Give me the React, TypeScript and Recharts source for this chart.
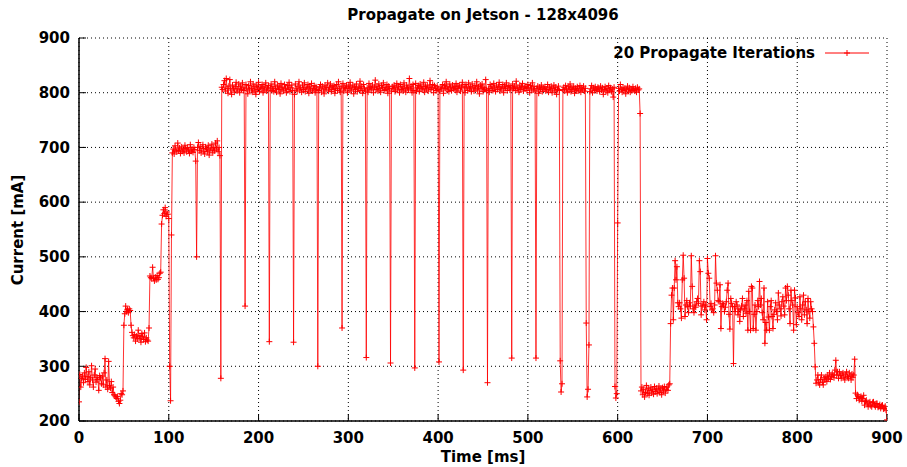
import React from 'react';
import { LineChart, Line, XAxis, YAxis, CartesianGrid } from 'recharts';

if (typeof document !== 'undefined') {
  document.body.style.margin = '0';
}

// ---- data (current in mA, sampled every 1 ms) ----
const xTicks = [0, 100, 200, 300, 400, 500, 600, 700, 800, 900];
const yTicks = [200, 300, 400, 500, 600, 700, 800, 900];

const idleStart = [
  235, 285, 262, 278, 282, 270, 288, 276, 298, 281,
  272, 290, 266, 279, 301, 275, 262, 284, 295, 271,
  280, 276, 256, 283, 279, 268, 282, 266, 288, 314,
  262, 275, 258, 309, 265, 260, 272, 252, 262, 248,
  246, 244, 241, 245, 236, 232, 238, 250, 248, 255,
];
const ramp400 = [
  375, 396, 410, 400, 404, 398, 405, 402, 375, 362,
  356, 352, 358, 346, 355, 350, 366, 351, 356, 344,
  360, 354, 349, 361, 345, 352, 348, 346, 370,
];
const ramp465 = [465, 462, 460, 481, 461, 456, 463, 458, 466, 459, 462, 470, 472];
const ramp580 = [560, 576, 586, 579, 590, 574, 582, 578, 570];
const dip100 = [300, 237, 540];
const plateau700 = [
  690, 697, 688, 703, 695, 692, 708, 694, 699,
  689, 701, 693, 697, 690, 704, 698, 692, 700, 695,
  689, 705, 693, 697, 691, 700, 696, 675, 500, 700,
  709, 694, 702, 690, 698, 705, 693, 688, 701, 697,
  692, 704, 686, 699, 695, 706, 690, 700, 694, 708,
  697, 712, 692, 700, 685,
];
const drop158 = [278];
const plateau800 = [
  810, 806, 815, 822, 803, 826, 808, 799, 812, 824, 805, 797, 814, 808, 801, 811, 819, 803, 807, 816,
  800, 812, 806, 818, 804, 809, 802, 815, 807, 798, 813, 805, 820, 808, 801, 816, 803, 811, 797, 814,
  806, 819, 802, 810, 808, 815, 800, 812, 805, 818, 803, 809, 813, 799, 807, 816, 804, 811, 802, 820,
  808, 801, 814, 806, 812, 798, 817, 805, 810, 803, 815, 808, 800, 813, 806, 819, 802, 809, 814, 804,
  811, 797, 816, 807, 803, 812, 820, 805, 809, 801, 814, 806, 818, 802, 810, 807, 815, 799, 812, 805,
  817, 803, 808, 813, 800, 811, 806, 822, 804, 809, 815, 801, 812, 807, 798, 814, 805, 810, 818, 803,
  809, 816, 802, 811, 806, 813, 799, 808, 815, 804, 820, 807, 801, 812, 805, 817, 803, 810, 808, 814,
  800, 812, 807, 819, 803, 809, 814, 798, 811, 806, 816, 802, 810, 808, 821, 804, 812, 799, 815, 807,
  803, 813, 809, 801, 817, 805, 811, 807, 814, 800, 810, 823, 806, 812, 803, 816, 808, 801, 813, 809,
  818, 804, 810, 806, 815, 799, 812, 808, 820, 803, 811, 807, 814, 802, 809, 817, 805, 812, 800, 815,
  806, 811, 803, 818, 808, 801, 814, 809, 805, 826, 807, 812, 800, 815, 804, 810, 817, 803, 809, 813,
  802, 816, 808, 811, 805, 819, 801, 812, 807, 814, 803, 810, 822, 806, 809, 815, 800, 813, 808, 804,
  812, 806, 818, 803, 810, 807, 815, 799, 813, 808, 820, 805, 811, 802, 816, 809, 804, 814, 807, 811,
  805, 817, 801, 812, 808, 814, 803, 810, 819, 806, 812, 800, 815, 809, 804, 818, 807, 811, 802, 816,
  809, 803, 813, 807, 820, 805, 811, 798, 814, 808, 816, 802, 810, 806, 824, 804, 812, 808, 801, 815,
  807, 812, 804, 817, 809, 802, 814, 806, 811, 819, 803, 810, 807, 815, 800, 812, 808, 818, 804, 811,
  813, 805, 810, 802, 816, 808, 812, 804, 821, 807, 809, 801, 814, 806, 811, 817, 803, 810, 808, 812,
  804, 815, 809, 800, 813, 807, 818, 805, 811, 803, 816, 808, 812, 799, 810, 806, 814, 802, 809, 807,
  811, 803, 806, 815, 801, 809, 805, 812, 800, 808, 814, 803, 810, 797, 806, 812, 804, 809, 801, 815,
  806, 810, 803, 813, 807, 800, 811, 805, 816, 802, 809, 806, 812, 799, 808, 804, 811, 803, 807, 813,
  801, 809, 805, 812, 803, 808, 798, 815, 806, 810, 802, 807, 813, 800, 809, 804, 811, 806, 803, 810,
  808, 802, 812, 805, 809, 797, 806, 811, 803, 808, 800, 813, 805, 809, 802, 807, 792, 810, 804, 812,
  805, 799, 808, 803, 815, 806, 801, 810, 804, 808, 798, 806, 812, 803, 809, 801, 807, 804, 811, 806,
  803, 808, 801, 810, 805, 807,
];
const spikeTimes = [185, 212, 239, 266, 293, 320, 347, 374, 401, 428, 455, 482, 509, 536, 537, 538, 565, 566, 567, 568, 597, 598, 599, 600];
const spikeValues = [410, 345, 344, 300, 370, 316, 306, 297, 308, 293, 270, 315, 315, 310, 253, 268, 379, 244, 258, 339, 263, 242, 250, 562];
const rampDown625 = [762];
const idleMid = [
  255, 262, 248, 258, 244, 252, 265, 250, 260, 247,
  256, 262, 251, 258, 249, 263, 254, 260, 250, 257,
  264, 252, 259, 248, 261, 255, 263, 251, 258, 262,
  256, 266, 268,
];
const busy = [
  378, 430, 443, 385, 443, 493, 458, 482, 416, 409,
  416, 405, 388, 458, 503, 461, 391, 412, 420, 409,
  398, 416, 410, 502, 446, 405, 398, 412, 408, 418,
  424, 415, 493, 473, 394, 410, 412, 418, 403, 412,
  385, 497, 470, 461, 409, 415, 403, 405, 398, 412,
  502, 452, 439, 420, 418, 449, 369, 409, 415, 412,
  400, 408, 418, 439, 452, 395, 368, 424, 415, 409,
  305, 409, 400, 418, 412, 394, 405, 382, 403, 410,
  424, 391, 405, 412, 397, 420, 366, 437, 400, 366,
  446, 443, 369, 395, 412, 366, 400, 420, 409, 455,
  412, 424, 398, 385, 443, 342, 380, 366, 418, 390,
  366, 409, 420, 391, 369, 395, 403, 416, 400, 385,
  434, 412, 405, 392, 418, 427, 410, 394, 443, 420,
  446, 430, 405, 378, 439, 420, 412, 366, 439, 425,
  376, 409, 398, 391, 427, 405, 385, 412, 430, 394,
  418, 403, 378, 424, 400, 388, 418, 405, 400, 372,
  342, 299,
];
const tail280 = [
  269, 275, 284, 270, 266, 276, 284, 271, 266, 279,
  275, 281, 272, 284, 278, 288, 276, 281, 286, 284,
  279, 293, 311, 284, 290, 278, 290, 283, 278, 286,
  288, 280, 275, 284, 290, 281, 278, 288, 282, 275,
  286, 280, 284, 313,
];
const tail230 = [
  251, 241, 248, 245, 238, 243, 245, 236, 241, 247,
  229, 236, 238, 231, 226, 233, 235, 228, 226, 234,
  235, 229, 226, 232, 232, 225, 226, 230, 223, 228,
  229, 222, 223, 227, 220, 202,
];

const segments: { start: number; values: number[] }[] = [
  { start: 0, values: idleStart },
  { start: 50, values: ramp400 },
  { start: 79, values: ramp465 },
  { start: 92, values: ramp580 },
  { start: 101, values: dip100 },
  { start: 104, values: plateau700 },
  { start: 158, values: drop158 },
  { start: 159, values: plateau800 },
  { start: 625, values: rampDown625 },
  { start: 626, values: idleMid },
  { start: 659, values: busy },
  { start: 821, values: tail280 },
  { start: 865, values: tail230 },
];

function buildRows() {
  const m = new Map<number, number>();
  segments.forEach((s) => s.values.forEach((v, i) => m.set(s.start + i, v)));
  spikeTimes.forEach((t, i) => m.set(t, spikeValues[i]));
  return Array.from(m.entries())
    .sort((a, b) => a[0] - b[0])
    .map(([t, ma]) => ({ t, ma }));
}
const rows = buildRows();

const RED = '#ff0000';
const FONT = '"DejaVu Sans", Verdana, sans-serif';

const PlusDot = (props: any) => {
  const { cx, cy, index } = props;
  if (cx == null || cy == null) return <g key={index} />;
  return (
    <path
      key={index}
      d={`M${cx - 3},${cy}H${cx + 3}M${cx},${cy - 3}V${cy + 3}`}
      stroke={RED}
      strokeWidth={1}
      fill="none"
    />
  );
};

const tickStyle = { fill: '#000', fontSize: 15, fontWeight: 'bold', fontFamily: FONT };

export default function App() {
  return (
    <div style={{ position: 'relative', width: 907, height: 467, background: '#fff' }}>
      <LineChart width={907} height={467} data={rows} margin={{ top: 38, right: 20, bottom: 16, left: 19 }}>
        <CartesianGrid stroke="#000" strokeDasharray="1 3" strokeWidth={1} />
        <XAxis
          dataKey="t"
          type="number"
          domain={[0, 900]}
          ticks={xTicks}
          interval={0}
          allowDataOverflow
          height={30}
          tickSize={-7}
          tickMargin={18}
          tick={tickStyle}
          axisLine={{ stroke: '#000', strokeWidth: 1.5 }}
          tickLine={{ stroke: '#000' }}
        />
        <XAxis
          xAxisId="top"
          orientation="top"
          type="number"
          domain={[0, 900]}
          ticks={xTicks}
          interval={0}
          allowDataOverflow
          height={0}
          tickSize={-7}
          tick={false}
          axisLine={{ stroke: '#000', strokeWidth: 1.5 }}
          tickLine={{ stroke: '#000' }}
        />
        <YAxis
          type="number"
          domain={[200, 900]}
          ticks={yTicks}
          interval={0}
          allowDataOverflow
          width={60}
          tickSize={-7}
          tickMargin={16}
          tick={tickStyle}
          axisLine={{ stroke: '#000', strokeWidth: 1.5 }}
          tickLine={{ stroke: '#000' }}
        />
        <YAxis
          yAxisId="right"
          orientation="right"
          type="number"
          domain={[200, 900]}
          ticks={yTicks}
          interval={0}
          allowDataOverflow
          width={0}
          tickSize={-7}
          tick={false}
          axisLine={{ stroke: '#000', strokeWidth: 1.5 }}
          tickLine={{ stroke: '#000' }}
        />
        <Line
          type="linear"
          dataKey="ma"
          stroke={RED}
          strokeOpacity={0.8}
          strokeWidth={1}
          dot={PlusDot}
          activeDot={false}
          isAnimationActive={false}
        />
      </LineChart>
      <svg
        width={907}
        height={467}
        style={{ position: 'absolute', left: 0, top: 0, pointerEvents: 'none' }}
      >
        <text x={483} y={20} textAnchor="middle" fontFamily={FONT} fontWeight="bold" fontSize={15} fill="#000">
          Propagate on Jetson - 128x4096
        </text>
        <text
          x={23}
          y={230}
          transform="rotate(-90 23 230)"
          textAnchor="middle"
          fontFamily={FONT}
          fontWeight="bold"
          fontSize={15}
          fill="#000"
        >
          Current [mA]
        </text>
        <text x={483} y={462} textAnchor="middle" fontFamily={FONT} fontWeight="bold" fontSize={15} fill="#000">
          Time [ms]
        </text>
        <text x={815} y={58} textAnchor="end" fontFamily={FONT} fontWeight="bold" fontSize={15} fill="#000">
          20 Propagate Iterations
        </text>
        <line x1={825} y1={53} x2={869} y2={53} stroke={RED} strokeWidth={1} />
        <path d="M844,53H850M847,50V56" stroke={RED} strokeWidth={1} fill="none" />
      </svg>
    </div>
  );
}
